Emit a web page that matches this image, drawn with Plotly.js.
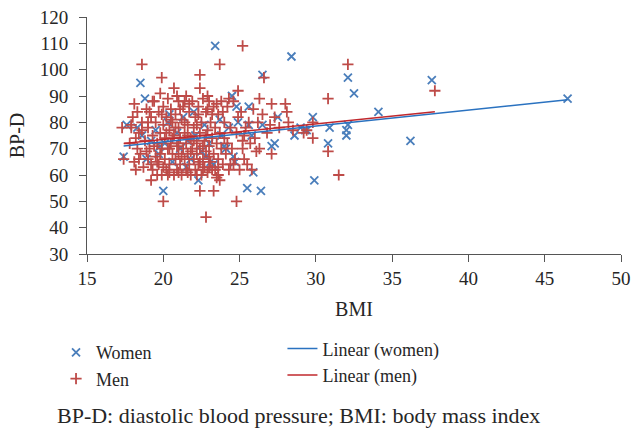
<!DOCTYPE html>
<html>
<head>
<meta charset="utf-8">
<script src="https://cdn.plot.ly/plotly-3.0.1.min.js"></script>
<style>html,body{margin:0;padding:0;background:#fff;}#chart{width:633px;height:432px;}</style>
</head>
<body>
<div id="chart"></div>
<script>
// Women (blue x)
var womenBMI = [17.4,17.6,18.5,18.8,18.6,18.3,20.0,23.4,24.5,26.5,
  28.4,25.5,26.4,25.9,22.3,24.8,25.6,27.5,27.1,27.3,
  28.6,29.9,29.8,29.0,29.4,25.8,25.6,26.5,24.9,24.3,
  23.7,24.6,24.7,23.1,46.5,37.6,32.1,32.5,34.1,36.2,
  32.1,32.0,32.0,30.9,30.8,29.3,
  18.9,19.2,19.5,19.7,20.1,20.3,20.6,20.9,21.1,21.3,
  21.6,21.8,22.0,22.1,22.5,22.7,23.0,23.3,23.8,24.1,
  21.5,20.4,19.8,22.8,24.0];
var womenBPD = [67,79,95,89,75,78,54,109,90,98,
  105,55,54,61,58,86,86,82,71,72,
  75,58,82,78,77,75,79,79,80,78,
  81,67,65,65,89,96,97,91,84,73,
  79,77,75,78,72,77,
  66,73,77,68,72,80,65,76,70,82,
  73,66,84,75,69,79,72,64,75,70,
  63,83,71,67,71];

// Men (red +)
var menBMI = [18.6,19.9,20.0,22.4,23.7,25.2,22.8,24.8,22.4,23.3,
  17.4,17.3,26.6,26.3,24.9,22.4,20.7,19.8,18.1,27.1,
  28.0,28.1,27.1,29.8,26.1,24.6,25.2,25.3,23.2,23.5,
  23.6,32.1,37.8,30.8,31.5,30.8,29.8,29.4,19.2,20.3,
  17.8,17.9,18.0,18.1,18.2,18.3,18.4,18.5,18.6,18.7,
  18.8,18.9,19.0,19.0,19.1,19.2,19.3,19.3,19.4,19.5,
  19.5,19.6,19.7,19.7,19.8,19.9,19.9,20.0,20.0,20.1,
  20.1,20.2,20.2,20.3,20.3,20.4,20.4,20.5,20.5,20.6,
  20.6,20.7,20.7,20.8,20.8,20.9,20.9,21.0,21.0,21.0,
  21.1,21.1,21.2,21.2,21.3,21.3,21.4,21.4,21.5,21.5,
  21.5,21.6,21.6,21.7,21.7,21.8,21.8,21.9,21.9,22.0,
  22.0,22.1,22.1,22.2,22.2,22.3,22.3,22.4,22.4,22.5,
  22.5,22.6,22.6,22.7,22.7,22.8,22.8,22.9,22.9,23.0,
  23.0,23.1,23.1,23.2,23.3,23.3,23.4,23.4,23.5,23.6,
  23.6,23.7,23.7,23.8,23.9,23.9,24.0,24.0,24.1,24.2,
  24.2,24.3,24.4,24.5,24.6,24.7,24.8,24.9,25.0,25.1,
  25.2,25.3,25.4,25.5,25.6,25.7,25.8,25.9,26.0,26.2,
  26.3,26.5,26.8,27.0,27.3,27.6,28.2,28.5,29.2,24.3,
  19.4,19.6,19.8,20.0,20.2,20.4,20.6,20.8,21.0,21.2,
  21.4,21.6,21.8,22.0,22.2,22.4,22.6,22.8,23.0,23.2,
  19.1,19.3,19.9,20.5,21.1,21.7,22.3,22.9,23.5,23.8,
  19.2,19.6,20.4,21.0,21.6,22.2,22.6,23.0,23.6,24.4,
  18.4,18.9,18.2,18.6,17.9,18.3,19.0,20.9,21.4,22.9];
var menBPD = [102,97,50,98,102,109,44,50,54,54,
  66,78,97,89,92,93,93,91,87,87,
  87,84,68,74,69,64,73,75,62,59,
  60,102,92,89,60,69,80,77,58,60,
  72,78,82,65,62,70,76,68,80,63,
  73,85,66,78,70,82,62,75,88,67,
  80,72,64,84,76,60,70,79,86,66,
  74,62,82,70,89,77,64,72,85,68,
  80,60,75,66,83,71,62,78,88,68,
  74,64,81,60,70,86,66,76,62,72,
  90,79,68,64,84,74,60,70,88,66,
  78,62,82,72,68,86,64,76,70,60,
  80,66,89,73,63,84,69,77,61,88,
  71,65,80,74,86,68,62,78,72,83,
  66,58,76,70,84,64,74,80,68,86,
  72,62,78,70,88,66,76,82,62,84,
  70,66,78,64,80,72,62,85,74,80,
  70,83,76,79,82,78,80,77,76,89,
  71,65,68,63,76,70,74,78,72,67,
  80,75,69,73,79,65,71,75,67,83,
  84,88,83,81,85,87,83,85,87,88,
  64,60,61,61,61,60,62,63,63,64,
  66,69,74,77,79,84,80,90,88,90];

// Linear trend lines
var womenFitBMI = [17.4, 46.5];
var womenFitBPD = [71.0, 88.6];
var menFitBMI = [17.4, 37.8];
var menFitBPD = [72.0, 84.0];

var xTicks = [15,20,25,30,35,40,45,50];
var yTicks = [30,40,50,60,70,80,90,100,110,120];

var FONT = "Liberation Serif, Times New Roman, serif";
var TXT = '#262626';

var traces = [
  {x: womenBMI, y: womenBPD, type: 'scatter', mode: 'markers', name: 'Women', legend: 'legend',
   marker: {symbol: 'x-thin-open', size: 8, color: '#4a7ebb', line: {color: '#4a7ebb', width: 1.8}}},
  {x: menBMI, y: menBPD, type: 'scatter', mode: 'markers', name: 'Men', legend: 'legend',
   marker: {symbol: 'cross-thin-open', size: 8, color: '#be4b48', line: {color: '#be4b48', width: 1.8}}},
  {x: womenFitBMI, y: womenFitBPD, type: 'scatter', mode: 'lines', name: 'Linear (women)', legend: 'legend2',
   line: {color: '#2a72c0', width: 1.5}},
  {x: menFitBMI, y: menFitBPD, type: 'scatter', mode: 'lines', name: 'Linear (men)', legend: 'legend2',
   line: {color: '#c0282d', width: 1.5}}
];

var axisCol = '#555555';
var layout = {
  width: 633, height: 432,
  margin: {l: 87, r: 12, t: 17, b: 178},
  paper_bgcolor: '#ffffff', plot_bgcolor: '#ffffff',
  font: {family: FONT, color: TXT, size: 18},
  showlegend: true,
  xaxis: {
    range: [15, 50], tickvals: xTicks, ticktext: xTicks.map(String),
    showgrid: false, zeroline: false, showline: true, linecolor: axisCol, linewidth: 1,
    ticks: 'outside', ticklen: 7, tickcolor: axisCol,
    tickfont: {family: FONT, size: 19, color: TXT},
    title: {text: 'BMI', font: {family: FONT, size: 20, color: TXT}, standoff: 14}
  },
  yaxis: {
    range: [30, 120], tickvals: yTicks, ticktext: yTicks.map(String),
    showgrid: false, zeroline: false, showline: true, linecolor: axisCol, linewidth: 1,
    ticks: 'outside', ticklen: 7, tickcolor: axisCol, ticklabelstandoff: 7,
    tickfont: {family: FONT, size: 19, color: TXT},
    title: {text: 'BP-D', font: {family: FONT, size: 20, color: TXT}, standoff: 9}
  },
  legend: {
    orientation: 'v', x: -0.058, xanchor: 'left', y: -0.338, yanchor: 'top',
    font: {family: FONT, size: 18, color: TXT}, bgcolor: 'rgba(0,0,0,0)'
  },
  legend2: {
    orientation: 'v', x: 0.366, xanchor: 'left', y: -0.322, yanchor: 'top',
    font: {family: FONT, size: 18, color: TXT}, bgcolor: 'rgba(0,0,0,0)'
  },
  annotations: [{
    text: 'BP-D: diastolic blood pressure; BMI: body mass index',
    xref: 'paper', yref: 'paper', x: 0.397, y: -0.68, xanchor: 'center', yanchor: 'middle',
    showarrow: false, font: {family: FONT, size: 22, color: TXT}
  }]
};

Plotly.newPlot('chart', traces, layout, {displayModeBar: false, staticPlot: true});
</script>
</body>
</html>
